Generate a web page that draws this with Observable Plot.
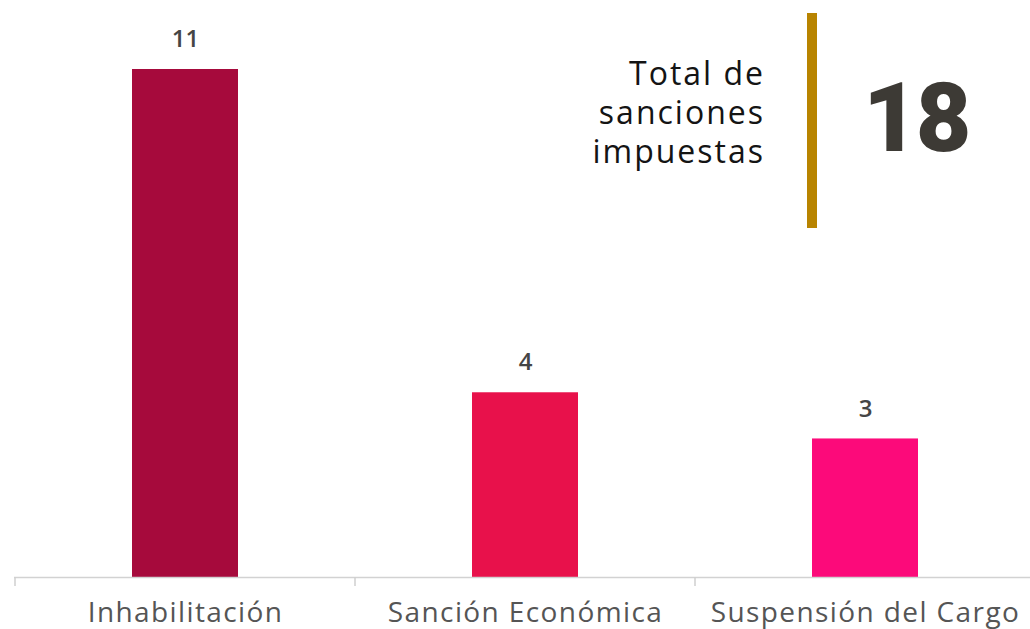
<!DOCTYPE html>
<html>
<head>
<meta charset="utf-8">
<script src="https://cdn.jsdelivr.net/npm/d3@7"></script>
<script src="https://cdn.jsdelivr.net/npm/@observablehq/plot@0.6"></script>
<style>
  html, body { margin: 0; padding: 0; background: #ffffff; }
  #wrap { position: relative; width: 1030px; height: 629px; overflow: hidden; font-family: "Open Sans", sans-serif; }
  #note { position: absolute; left: 560px; top: 53px; width: 205px; text-align: right; font-size: 32px; line-height: 39px; color: #141414; letter-spacing: 2px; }
  #bar { position: absolute; left: 807px; top: 13px; width: 10px; height: 215px; background: #B88400; }
  #total { position: absolute; left: 863px; top: 63px; font-family: Roboto, "Lato", sans-serif; font-weight: 900; font-size: 96px; line-height: 110px; color: #3D3A35; letter-spacing: -3px; }
</style>
</head>
<body>
<div id="wrap">
  <div id="chart"></div>
  <div id="note">Total de<br>sanciones<br>impuestas</div>
  <div id="bar"></div>
  <div id="total"></div>
</div>
<script>
const categories = ["Inhabilitación", "Sanción Económica", "Suspensión del Cargo"];
const values = [11, 4, 3];
const colors = ["#A60A3C", "#E8114B", "#FC0A7A"];
const totalLabel = "Total de sanciones impuestas";

const data = categories.map((c, i) => ({cat: c, value: values[i], color: colors[i]}));
document.getElementById("total").textContent = d3.sum(values);

const boundaryTicks = (index, {x, y}) => {
  const g = d3.create("svg:g").attr("stroke", "#cfcfcf").attr("stroke-width", 1.5);
  for (const c of categories) {
    g.append("line").attr("x1", x(c)).attr("x2", x(c)).attr("y1", y(0)).attr("y2", y(0) + 9);
  }
  return g.node();
};

const chart = Plot.plot({
  width: 1030,
  height: 629,
  marginTop: 69,
  marginBottom: 52,
  marginLeft: 14,
  marginRight: -6,
  style: {background: "transparent", fontFamily: "Open Sans, sans-serif", overflow: "visible"},
  x: {domain: categories, padding: 0, label: null},
  y: {domain: [0, 11], axis: null},
  color: {type: "identity"},
  marks: [
    Plot.barY(data, {x: "cat", y: "value", fill: "color", insetLeft: 117, insetRight: 117}),
    Plot.ruleY([0], {stroke: "#d2d2d2", strokeWidth: 1.5}),
    boundaryTicks,
    Plot.text(data, {x: "cat", y: "value", text: d => String(d.value), dy: -30, fontSize: 24, fontWeight: 600, fill: "#454545"}),
    Plot.axisX({tickSize: 0, tickPadding: 25, fontSize: 28, color: "#555555", label: null, fill: "#555555"})
  ]
});
chart.querySelectorAll('[aria-label="x-axis tick label"] text').forEach(t => t.setAttribute("letter-spacing", "1.4"));
document.getElementById("chart").appendChild(chart);
</script>
</body>
</html>
